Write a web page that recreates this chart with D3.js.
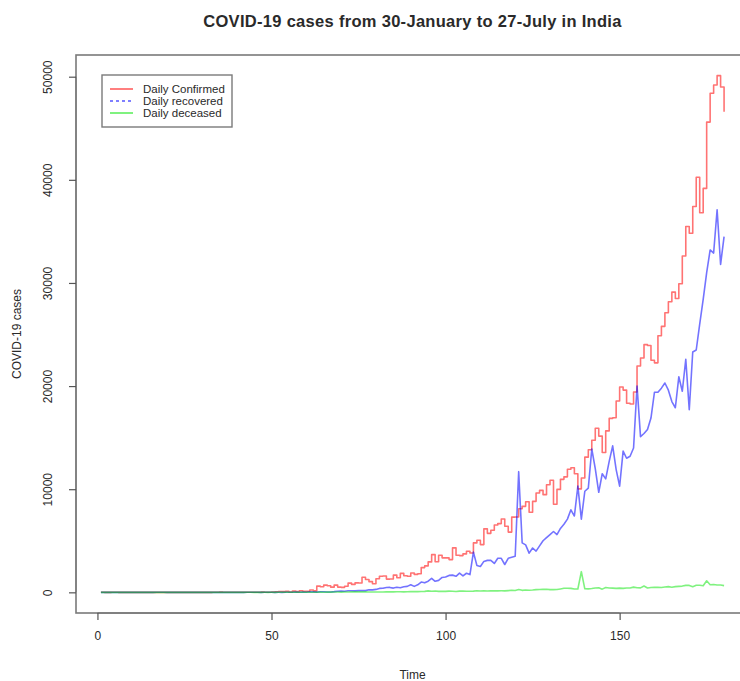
<!DOCTYPE html>
<html>
<head>
<meta charset="utf-8">
<script src="https://cdn.jsdelivr.net/npm/d3@7"></script>
<style>
  html, body { margin: 0; padding: 0; background: #fff; }
  svg { display: block; font-family: "Liberation Sans", Arial, sans-serif; }
</style>
</head>
<body>
<svg id="chart" width="740" height="681"></svg>
<script>
// Daily COVID-19 figures for India, day 1 = 30 January, day 180 = 27 July
const dailyConfirmed = [
  1, 0, 0, 1, 1, 0, 0, 0, 0, 0,
  0, 0, 0, 0, 0, 0, 0, 0, 0, 0,
  0, 0, 0, 0, 0, 0, 0, 0, 0, 0,
  0, 0, 2, 1, 22, 2, 1, 3, 5, 9,
  15, 8, 10, 11, 10, 14, 20, 11, 14, 38,
  50, 86, 66, 103, 37, 121, 70, 160, 100, 112,
  227, 146, 601, 545, 703, 643, 505, 703, 508, 485,
  591, 896, 768, 918, 906, 1463, 1248, 1034, 836, 1318,
  1562, 1587, 1283, 1297, 1667, 1408, 1835, 1607, 1561, 1873,
  1738, 1801, 2396, 2564, 2952, 3656, 2971, 3602, 3344, 3339,
  3175, 4311, 3592, 3562, 3726, 3991, 3808, 4794, 5049, 4628,
  6154, 5720, 6023, 6536, 6667, 7113, 6414, 5843, 7293, 7300,
  8105, 8336, 8782, 7761, 8821, 9633, 9889, 9471, 10438, 10864,
  8536, 9981, 10956, 11200, 11929, 12085, 11502, 10032, 11086, 13108,
  13829, 14740, 15918, 15151, 13560, 15656, 16868, 16922, 18552, 19906,
  19610, 18339, 18256, 19429, 21947, 22721, 24018, 23942, 22510, 22252,
  24879, 25790, 27114, 28178, 29108, 28498, 29917, 32607, 35468, 34820,
  37411, 40243, 36806, 39170, 45599, 48400, 49200, 50100, 49000, 46600
];

const dailyRecovered = [
  0, 0, 0, 0, 0, 0, 0, 0, 0, 0,
  0, 0, 0, 0, 0, 0, 1, 1, 1, 0,
  0, 0, 0, 0, 0, 0, 0, 0, 0, 0,
  0, 0, 0, 0, 0, 0, 0, 0, 0, 0,
  0, 0, 1, 3, 6, 1, 0, 1, 1, 3,
  0, 2, 0, 14, 7, 4, 20, 10, 39, 12,
  52, 48, 20, 59, 55, 38, 37, 68, 112, 135,
  100, 152, 147, 137, 167, 183, 168, 253, 240, 284,
  380, 392, 471, 476, 411, 493, 452, 541, 579, 737,
  579, 734, 1000, 920, 1080, 1362, 1070, 1161, 1442, 1480,
  1640, 1668, 1556, 1864, 1590, 1850, 1720, 3900, 2600, 2500,
  3000, 3100, 3100, 2800, 3300, 3300, 2700, 3300, 3400, 3500,
  11700, 4800, 4600, 3800, 4300, 4000, 4500, 5000, 5300, 5600,
  5900, 5600, 6200, 6600, 7100, 8000, 7400, 10300, 7100, 9800,
  10100, 13900, 12000, 9700, 11500, 11000, 12700, 14200, 11900, 10300,
  13700, 13000, 13200, 14000, 20000, 15100, 15400, 15800, 16900, 19400,
  19400, 19800, 20300, 19600, 18500, 17900, 20900, 19500, 22600, 17700,
  23300, 23500, 26000, 28400, 31000, 33200, 32900, 37100, 31800, 34500
];

const dailyDeceased = [
  0, 0, 0, 0, 0, 0, 0, 0, 0, 0,
  0, 0, 0, 0, 0, 0, 0, 0, 0, 0,
  0, 0, 0, 0, 0, 0, 0, 0, 0, 0,
  0, 0, 0, 0, 0, 0, 0, 0, 0, 0,
  0, 0, 1, 1, 0, 0, 0, 1, 0, 1,
  0, 1, 3, 2, 1, 3, 5, 4, 3, 4,
  10, 6, 12, 20, 11, 20, 18, 33, 31, 20,
  39, 37, 42, 40, 44, 47, 40, 27, 29, 37,
  39, 36, 43, 43, 40, 57, 60, 40, 50, 69,
  73, 66, 77, 92, 140, 103, 128, 89, 103, 97,
  117, 111, 81, 121, 136, 104, 104, 120, 157, 134,
  140, 132, 148, 142, 142, 147, 146, 170, 196, 175,
  270, 193, 230, 204, 220, 260, 273, 286, 297, 261,
  265, 274, 331, 395, 396, 386, 325, 324, 2003, 341,
  334, 375, 426, 445, 310, 466, 418, 410, 386, 410,
  381, 417, 418, 506, 444, 434, 612, 421, 467, 482,
  487, 475, 519, 551, 500, 553, 581, 606, 675, 671,
  543, 680, 681, 637, 1120, 740, 764, 708, 705, 654
];

const xTicks = [0, 50, 100, 150];
const yTicks = [0, 10000, 20000, 30000, 40000, 50000];
const legendLabels = ["Daily Confirmed", "Daily recovered", "Daily deceased"];
const titleText = "COVID-19 cases from 30-January to 27-July in India";

const svg = d3.select("#chart");
const plot = { left: 76, right: 749, top: 55, bottom: 613 };

// Axis ranges padded by 4% on each side
const days = d3.range(1, dailyConfirmed.length + 1);
const xMin = 1, xMax = days.length;
const xPad = (xMax - xMin) * 0.04;
const yMax = d3.max(dailyConfirmed);
const yPad = yMax * 0.04;

const x = d3.scaleLinear().domain([xMin - xPad, xMax + xPad]).range([plot.left, plot.right]);
const y = d3.scaleLinear().domain([-yPad, yMax + yPad]).range([plot.bottom, plot.top]);

const textColor = "#2a2a2a";

// Title
svg.append("text")
  .attr("x", (plot.left + plot.right) / 2)
  .attr("y", 27)
  .attr("text-anchor", "middle")
  .attr("font-size", 16.5)
  .attr("font-weight", "bold")
  .attr("letter-spacing", 0.3)
  .attr("fill", textColor)
  .text(titleText);

// Series lines
svg.append("clipPath").attr("id", "plotClip")
  .append("rect")
  .attr("x", plot.left).attr("y", plot.top)
  .attr("width", plot.right - plot.left).attr("height", plot.bottom - plot.top);

const g = svg.append("g").attr("clip-path", "url(#plotClip)");

const series = [
  { values: dailyConfirmed, color: "rgba(255,0,0,0.55)", curve: d3.curveStepAfter },
  { values: dailyRecovered, color: "rgba(0,0,255,0.55)", curve: d3.curveLinear },
  { values: dailyDeceased, color: "rgba(0,230,0,0.5)", curve: d3.curveLinear }
];

series.forEach(s => {
  const line = d3.line()
    .x((d, i) => x(days[i]))
    .y(d => y(d))
    .curve(s.curve);
  g.append("path")
    .datum(s.values)
    .attr("fill", "none")
    .attr("stroke", s.color)
    .attr("stroke-width", 1.6)
    .attr("stroke-linejoin", "round")
    .attr("d", line);
});

// Plot frame
svg.append("rect")
  .attr("x", plot.left).attr("y", plot.top)
  .attr("width", plot.right - plot.left).attr("height", plot.bottom - plot.top)
  .attr("fill", "none")
  .attr("stroke", "#7a7a7a")
  .attr("stroke-width", 1.6);

// Bottom axis
const xAxis = svg.append("g")
  .attr("transform", `translate(0,${plot.bottom})`)
  .call(d3.axisBottom(x).tickValues(xTicks).tickSize(7).tickPadding(11).tickFormat(d3.format("d")));
xAxis.select(".domain")
  .attr("d", `M${x(xTicks[0])},0H${x(xTicks[xTicks.length - 1])}`)
  .attr("stroke", "#7a7a7a").attr("stroke-width", 1.3);
xAxis.selectAll(".tick line").attr("stroke", "#555").attr("stroke-width", 1.2);
xAxis.selectAll(".tick text")
  .attr("font-size", 12)
  .attr("font-family", "Liberation Sans, Arial, sans-serif")
  .attr("fill", textColor);

// Left axis with rotated labels
const yAxis = svg.append("g")
  .attr("transform", `translate(${plot.left},0)`)
  .call(d3.axisLeft(y).tickValues(yTicks).tickSize(7).tickFormat(d3.format("d")));
yAxis.select(".domain")
  .attr("d", `M0,${y(yTicks[0])}V${y(yTicks[yTicks.length - 1])}`)
  .attr("stroke", "#7a7a7a").attr("stroke-width", 1.3);
yAxis.selectAll(".tick line").attr("stroke", "#555").attr("stroke-width", 1.2);
yAxis.selectAll(".tick text")
  .attr("font-size", 12)
  .attr("font-family", "Liberation Sans, Arial, sans-serif")
  .attr("fill", textColor)
  .attr("x", null)
  .attr("text-anchor", "middle")
  .attr("transform", "translate(-28,0) rotate(-90)")
  .attr("dy", "0.32em");

// Axis titles
svg.append("text")
  .attr("x", (plot.left + plot.right) / 2)
  .attr("y", 679)
  .attr("text-anchor", "middle")
  .attr("font-size", 12)
  .attr("fill", textColor)
  .text("Time");

svg.append("text")
  .attr("transform", `translate(21,${(plot.top + plot.bottom) / 2}) rotate(-90)`)
  .attr("text-anchor", "middle")
  .attr("font-size", 12)
  .attr("fill", textColor)
  .text("COVID-19 cases");

// Legend
const legend = svg.append("g").attr("transform", "translate(102,75)");
legend.append("rect")
  .attr("width", 130).attr("height", 52)
  .attr("fill", "#fff")
  .attr("stroke", "#7a7a7a")
  .attr("stroke-width", 1.4);

const legendStyles = [
  { color: "rgba(255,0,0,0.5)", dash: null },
  { color: "rgba(0,0,255,0.5)", dash: "3,3" },
  { color: "rgba(0,230,0,0.5)", dash: null }
];

legendLabels.forEach((label, i) => {
  const ly = 14 + i * 12;
  legend.append("line")
    .attr("x1", 8).attr("x2", 31)
    .attr("y1", ly).attr("y2", ly)
    .attr("stroke", legendStyles[i].color)
    .attr("stroke-width", 2)
    .attr("stroke-dasharray", legendStyles[i].dash);
  legend.append("text")
    .attr("x", 41).attr("y", ly)
    .attr("dy", "0.35em")
    .attr("font-size", 11.5)
    .attr("fill", textColor)
    .text(label);
});
</script>
</body>
</html>
